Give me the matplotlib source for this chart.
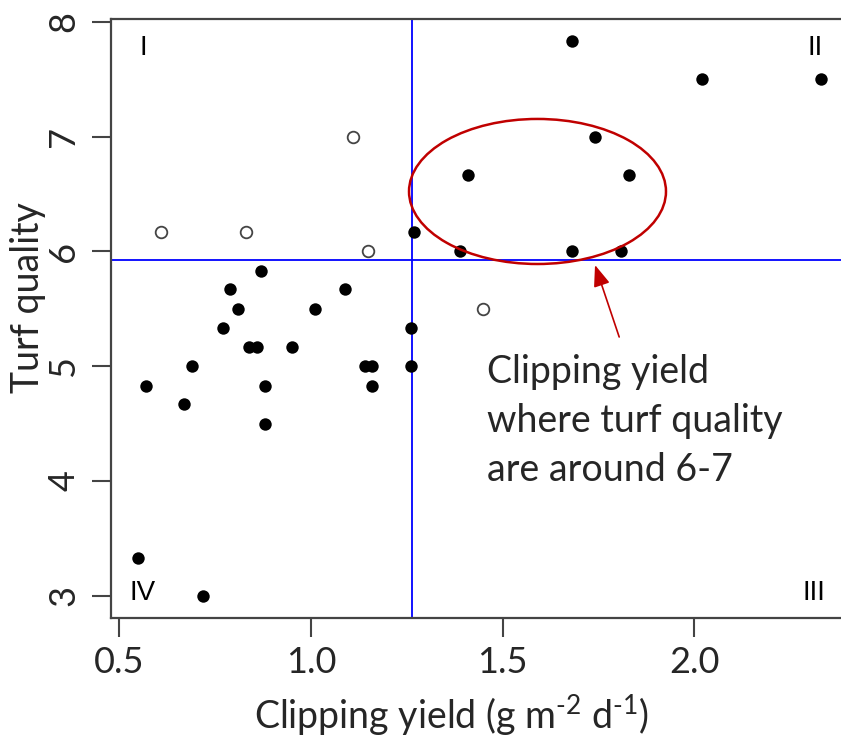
import numpy as np
import matplotlib.pyplot as plt
from matplotlib.patches import Ellipse

# valores
filled_x = [1.68, 2.02, 2.33, 1.74, 1.41, 1.83, 1.27, 1.39, 1.68, 1.81,
            0.87, 0.79, 1.09, 0.81, 1.01, 0.77, 1.26, 0.84, 0.86, 0.95,
            0.69, 1.14, 1.16, 1.26, 0.57, 0.88, 1.16, 0.67, 0.88, 0.55, 0.72]
filled_y = [7.83, 7.5, 7.5, 7.0, 6.67, 6.67, 6.17, 6.0, 6.0, 6.0,
            5.83, 5.67, 5.67, 5.5, 5.5, 5.33, 5.33, 5.17, 5.17, 5.17,
            5.0, 5.0, 5.0, 5.0, 4.83, 4.83, 4.83, 4.67, 4.5, 3.33, 3.0]
open_x = [1.11, 0.61, 0.83, 1.15, 1.45]
open_y = [7.0, 6.17, 6.17, 6.0, 5.5]

x_cut = 1.264
y_cut = 5.926

xticks = [0.5, 1.0, 1.5, 2.0]
yticks = [3, 4, 5, 6, 7, 8]
quadrants = ['I', 'II', 'III', 'IV']
quad_x = [0.5625, 2.315, 2.313, 0.5625]
quad_y = [7.77, 7.77, 3.02, 3.02]

note = 'Clipping yield\nwhere turf quality\nare around 6-7'

plt.rcParams['font.family'] = ['Lato', 'DejaVu Sans']
plt.rcParams['mathtext.fontset'] = 'custom'
plt.rcParams['mathtext.rm'] = 'Lato'
plt.rcParams['mathtext.it'] = 'Lato'

txt = '#262626'
frame = '#444444'
red = '#C00000'

fig = plt.figure(figsize=(8.41, 7.40), dpi=100)
ax = fig.add_axes([111 / 841, 122 / 740, 741 / 841, 599 / 740])

ax.axvline(x_cut, color='#0000FF', lw=1.3, zorder=1)
ax.axhline(y_cut, color='#0000FF', lw=1.3, zorder=1)

ax.scatter(filled_x, filled_y, s=80, color='black', zorder=3, linewidths=0)
ax.scatter(open_x, open_y, s=70, facecolors='white', edgecolors='#444444',
           linewidths=1.3, zorder=3)

for lab, qx, qy in zip(quadrants, quad_x, quad_y):
    ax.text(qx, qy, lab, ha='center', va='center', fontsize=20,
            family='Liberation Sans', color='black')

ell = Ellipse((1.591, 6.523), 0.670, 1.264, fill=False, edgecolor=red,
              lw=1.8, zorder=4)
ax.add_patch(ell)

ax.annotate('', xy=(1.741, 5.882), xytext=(1.804, 5.255),
            arrowprops=dict(arrowstyle='-|>,head_length=1.3,head_width=0.5',
                            color=red, lw=1.2, shrinkA=0, shrinkB=0),
            zorder=5)

# va='baseline' em texto multilinha prende a ultima linha
fig.text(487 / 841, (740 - 481) / 740, note, fontsize=27, color=txt,
         ha='left', va='baseline', linespacing=1.45)

ax.set_xlim(0.479, 2.411)
ax.set_ylim(2.806, 8.026)
ax.set_xticks(xticks)
ax.set_xticklabels(['%.1f' % v for v in xticks])
ax.set_yticks(yticks)
ax.set_yticklabels([str(v) for v in yticks], rotation=90, va='center')

ax.tick_params(axis='both', length=14, width=1.5, color=frame,
               labelsize=26, labelcolor=txt, pad=6)
ax.tick_params(axis='y', pad=8)
for sp in ax.spines.values():
    sp.set_color(frame)
    sp.set_linewidth(1.6)

fig.text(452 / 841, (740 - 729) / 740,
         r'Clipping yield (g m$^{\text{-}2}$ d$^{\text{-}1}$)',
         fontsize=27, color=txt, ha='center', va='baseline')
fig.text(28 / 841, (740 - 298) / 740, 'Turf quality', fontsize=27, color=txt,
         rotation=90, ha='center', va='center')

fig.savefig('out.png', dpi=100)
